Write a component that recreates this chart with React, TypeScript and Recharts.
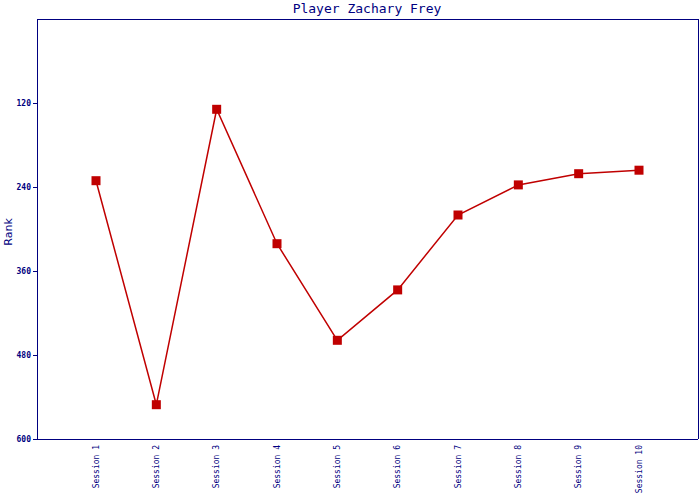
import * as React from "react";
import { LineChart, Line, XAxis, YAxis } from "recharts";

// Rank per session (lower is better, axis reversed)
const sessions = [
  "Session 1",
  "Session 2",
  "Session 3",
  "Session 4",
  "Session 5",
  "Session 6",
  "Session 7",
  "Session 8",
  "Session 9",
  "Session 10",
];
const ranks = [231, 551, 129, 321, 459, 387, 280, 237, 221, 216];
const rankTicks = [120, 240, 360, 480, 600];

const NAVY = "#000080";
const RED = "#c00000";

const data = sessions.map((s, i) => ({ session: s, rank: ranks[i] }));

const crisp = { stroke: NAVY, shapeRendering: "crispEdges" } as any;

function SessionTick(props: any) {
  const { x, y, payload } = props;
  return (
    <text
      transform={`translate(${x},${y - 2}) rotate(-90)`}
      textAnchor="end"
      dy="0.35em"
      fontFamily="DejaVu Sans Mono"
      fontSize={8}
      fill={NAVY}
    >
      {payload.value}
    </text>
  );
}

function SquareDot(props: any) {
  const { cx, cy } = props;
  if (cx == null || cy == null) return null;
  return <rect x={cx - 4.5} y={cy - 4.5} width={9} height={9} fill={RED} />;
}

export default function App() {
  return (
    <div style={{ position: "absolute", left: 0, top: 0, width: 700, height: 500, background: "#fff" }}>
      <svg width={700} height={500} style={{ position: "absolute", left: 0, top: 0 }}>
        <text
          x={367}
          y={13}
          textAnchor="middle"
          fontFamily="DejaVu Sans Mono"
          fontSize={13}
          fill={NAVY}
        >
          Player Zachary Frey
        </text>
        <text
          transform="translate(12,232) rotate(-90)"
          textAnchor="middle"
          fontFamily="DejaVu Sans"
          fontSize={11}
          fill={NAVY}
        >
          Rank
        </text>
      </svg>
      <LineChart
        width={700}
        height={500}
        data={data}
        margin={{ top: 18, right: 1, bottom: 0, left: 0 }}
      >
        <XAxis
          dataKey="session"
          height={61}
          padding={{ left: 59, right: 59 }}
          axisLine={crisp}
          tickLine={false}
          interval={0}
          tick={<SessionTick />}
        />
        <XAxis
          xAxisId="top"
          orientation="top"
          dataKey="session"
          height={1}
          axisLine={crisp}
          tickLine={false}
          tick={false}
        />
        <YAxis
          width={37}
          domain={[0, 600]}
          reversed
          ticks={rankTicks}
          interval={0}
          axisLine={crisp}
          tickLine={crisp}
          tickSize={4}
          tick={{
            fill: NAVY,
            fontSize: 8,
            fontFamily: "DejaVu Sans Mono",
            fontWeight: "bold",
          }}
        />
        <YAxis
          yAxisId="right"
          orientation="right"
          width={1}
          domain={[0, 600]}
          axisLine={crisp}
          tickLine={false}
          tick={false}
        />
        <Line
          type="linear"
          dataKey="rank"
          stroke={RED}
          strokeWidth={1.5}
          dot={<SquareDot />}
          activeDot={false}
          isAnimationActive={false}
        />
      </LineChart>
    </div>
  );
}
